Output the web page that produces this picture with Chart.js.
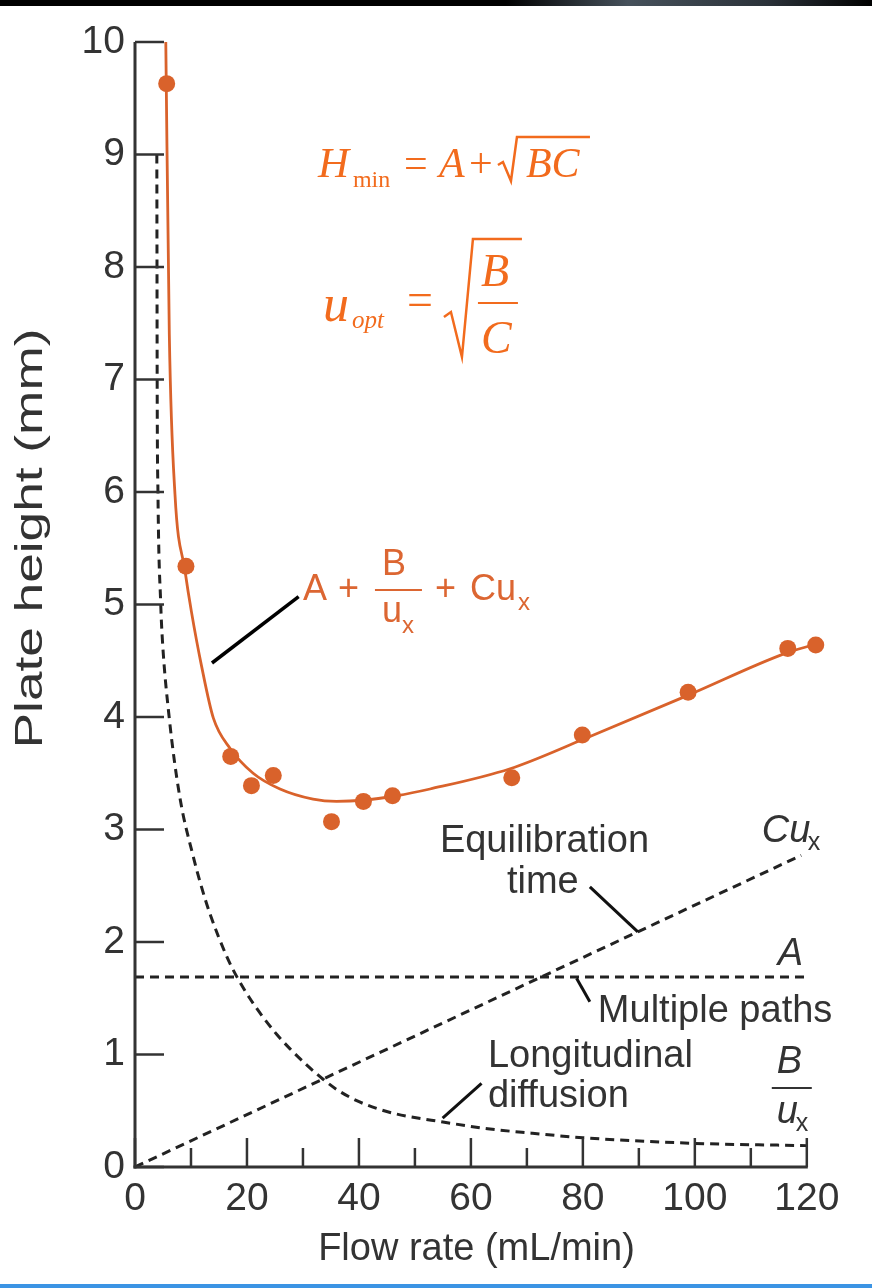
<!DOCTYPE html>
<html lang="en">
<head>
<meta charset="UTF-8">
<title>Plate height vs flow rate</title>
<script src="https://cdn.jsdelivr.net/npm/chart.js"></script>
<style>
  body { margin: 0; background: #fff; }
  #wrap { position: relative; width: 872px; height: 1288px; overflow: hidden; }
  #topbar { position: absolute; left: 0; top: 0; width: 872px; height: 6px;
            background: linear-gradient(to right, #000 0%, #000 58%, #46515b 72%, #2b3239 88%, #000 100%); }
  #bottombar { position: absolute; left: 0; top: 1284px; width: 872px; height: 4px; background: #3b94e4; }
  canvas { position: absolute; left: 0; top: 0; }
</style>
</head>
<body>
<div id="wrap">
  <canvas id="myChart" width="872" height="1288"></canvas>
  <div id="topbar"></div>
  <div id="bottombar"></div>
</div>
<script>
// ---- data ----
const xTicks = [0, 20, 40, 60, 80, 100, 120];
const xMinorTicks = [10, 30, 50, 70, 90, 110];
const yTicks = [0, 1, 2, 3, 4, 5, 6, 7, 8, 9, 10];

// measured plate heights (dots)
const flowRate    = [5.66, 9.1, 17.1, 20.8, 24.7, 35.1, 40.8, 46.0, 67.3, 79.9, 98.8, 116.6, 121.6];
const plateHeight = [9.63, 5.34, 3.65, 3.39, 3.48, 3.07, 3.25, 3.30, 3.46, 3.84, 4.22, 4.61, 4.64];

// fitted curve A + B/u + Cu
const fitX = [5.5, 6.13, 7.14, 8.93, 10.1, 11.9, 14.0, 17.0, 21.1, 25.9, 31.8, 36.0, 40.7, 46.7, 52.7, 67.0, 80.0, 99.1, 116.4, 121.1];
const fitH = [10.0, 7.40, 5.98, 5.30, 4.93, 4.45, 3.99, 3.72, 3.50, 3.36, 3.27, 3.25, 3.26, 3.30, 3.36, 3.54, 3.80, 4.20, 4.57, 4.64];

// longitudinal diffusion term B/u
const diffX = [3.9, 3.93, 3.96, 4.1, 4.6, 4.9, 6.1, 8.0, 10.4, 11.7, 13.4, 16.4, 18.2, 20.5, 22.9, 25.3, 27.7, 30.6, 33.6, 36.0, 39.6, 43.2, 46.8, 55, 63, 71, 80, 100, 120];
const diffH = [9.0, 8.0, 7.0, 6.0, 5.0, 4.68, 4.0, 3.29, 2.76, 2.52, 2.25, 1.87, 1.69, 1.50, 1.33, 1.18, 1.05, 0.91, 0.78, 0.69, 0.59, 0.52, 0.47, 0.40, 0.34, 0.30, 0.26, 0.21, 0.19];

// multiple paths term A
const pathsX = [0, 120];
const pathsH = [1.69, 1.69];

// equilibration time term Cu
const equilX = [0, 119];
const equilH = [0, 2.77];

const AXIS = '#333';
const DOT = '#d9622b';
const ORANGE_SERIF = '#f26b1d';
const ORANGE_SANS = '#dc6632';
const SANS = '"Liberation Sans", Arial, Helvetica, sans-serif';
const SERIF = '"Liberation Serif", "Times New Roman", serif';

const pts = (xs, ys) => xs.map((v, i) => ({x: v, y: ys[i]}));

// axes, inward ticks and text annotations
const annotations = {
    id: 'annotations',
    afterDraw(chart) {
        const {ctx} = chart;
        const x = chart.scales.x, y = chart.scales.y;
        const P = (xv, yv) => [x.getPixelForValue(xv), y.getPixelForValue(yv)];
        const seg = (list, color, w) => {
            ctx.beginPath();
            ctx.strokeStyle = color; ctx.lineWidth = w;
            ctx.lineJoin = 'miter'; ctx.lineCap = 'butt';
            list.forEach((p, i) => i ? ctx.lineTo(p[0], p[1]) : ctx.moveTo(p[0], p[1]));
            ctx.stroke();
        };
        const txt = (s, px, py, font, color) => {
            ctx.font = font; ctx.fillStyle = color;
            ctx.textAlign = 'left'; ctx.textBaseline = 'alphabetic';
            ctx.fillText(s, px, py);
        };
        ctx.save();

        const x0 = x.getPixelForValue(0), x1 = x.getPixelForValue(120);
        const y0 = y.getPixelForValue(0), y1 = y.getPixelForValue(10);
        seg([[x0, y1], [x0, y0 + 1.5]], AXIS, 3);
        seg([[x0 - 1.5, y0], [x1 + 1, y0]], AXIS, 3);

        // ticks pointing into the plot
        yTicks.forEach(v => { const py = y.getPixelForValue(v); seg([[x0, py], [x0 + 29, py]], AXIS, 2.5); });
        xTicks.forEach(v => { const px = x.getPixelForValue(v); seg([[px, y0], [px, y0 - 29]], AXIS, 2.5); });
        xMinorTicks.forEach(v => { const px = x.getPixelForValue(v); seg([[px, y0], [px, y0 - 19]], AXIS, 2.5); });

        // y axis title, stretched along its length like the original figure
        ctx.save();
        ctx.translate(32, (y0 + y1) / 2 - 66);
        ctx.rotate(-Math.PI / 2);
        ctx.scale(1.4, 1);
        ctx.font = '38px ' + SANS; ctx.fillStyle = AXIS;
        ctx.textAlign = 'center'; ctx.textBaseline = 'middle';
        ctx.fillText('Plate height (mm)', 0, 0);
        ctx.restore();

        // H_min = A + sqrt(BC)
        let [a, b] = P(32.68, 8.80);
        txt('H', a, b, 'italic 43px ' + SERIF, ORANGE_SERIF);
        txt('min', a + 35, b + 10, '24px ' + SERIF, ORANGE_SERIF);
        txt('=', a + 86, b, '42px ' + SERIF, ORANGE_SERIF);
        txt('A', a + 121, b, 'italic 42px ' + SERIF, ORANGE_SERIF);
        txt('+', a + 151, b, '42px ' + SERIF, ORANGE_SERIF);
        seg([[a + 180, b - 12], [a + 185, b - 15], [a + 193, b + 4], [a + 199, b - 40], [a + 272, b - 40]], ORANGE_SERIF, 2.5);
        txt('BC', a + 208, b, 'italic 42px ' + SERIF, ORANGE_SERIF);

        // u_opt = sqrt(B/C)
        [a, b] = P(33.57, 7.52);
        txt('u', a, b, 'italic 52px ' + SERIF, ORANGE_SERIF);
        txt('opt', a + 29, b + 7, 'italic 25px ' + SERIF, ORANGE_SERIF);
        txt('=', a + 84, b - 6, '46px ' + SERIF, ORANGE_SERIF);
        seg([[a + 121, b - 4], [a + 128, b - 9], [a + 139, b + 36], [a + 150, b - 82], [a + 199, b - 82]], ORANGE_SERIF, 2.5);
        txt('B', a + 158, b - 35, 'italic 46px ' + SERIF, ORANGE_SERIF);
        seg([[a + 155, b - 18], [a + 195, b - 18]], ORANGE_SERIF, 2);
        txt('C', a + 158, b + 32, 'italic 46px ' + SERIF, ORANGE_SERIF);

        // A + B/u_x + Cu_x with leader
        seg([P(29.23, 5.07), P(13.75, 4.48)], '#000', 3.5);
        [a, b] = P(30.0, 5.04);
        const f3 = '36px ' + SANS, f3s = '24px ' + SANS;
        txt('A', a, b, f3, ORANGE_SANS);
        txt('+', a + 35, b, f3, ORANGE_SANS);
        txt('B', a + 79, b - 25, f3, ORANGE_SANS);
        seg([[a + 72, b - 10], [a + 119, b - 10]], ORANGE_SANS, 2);
        txt('u', a + 79, b + 22, f3, ORANGE_SANS);
        txt('x', a + 99, b + 33, f3s, ORANGE_SANS);
        txt('+', a + 132, b, f3, ORANGE_SANS);
        txt('Cu', a + 167, b, f3, ORANGE_SANS);
        txt('x', a + 215, b + 10, f3s, ORANGE_SANS);

        // term labels
        const lf = '38px ' + SANS, it = 'italic 38px ' + SANS, sub = '25px ' + SANS;
        txt('Equilibration', ...P(54.46, 2.80), lf, AXIS);
        txt('time', ...P(66.43, 2.436), lf, AXIS);
        seg([P(81.25, 2.49), P(89.82, 2.09)], '#111', 3);
        [a, b] = P(111.96, 2.889);
        txt('Cu', a, b, it, AXIS);
        txt('x', a + 46, b + 8, sub, AXIS);

        txt('A', ...P(114.8, 1.796), it, AXIS);
        seg([P(78.87, 1.677), P(81.25, 1.469)], '#111', 3);
        txt('Multiple paths', ...P(82.68, 1.292), lf, AXIS);

        txt('Longitudinal', ...P(63.04, 0.892), lf, AXIS);
        txt('diffusion', ...P(63.04, 0.536), lf, AXIS);
        seg([P(61.9, 0.744), P(54.95, 0.435)], '#111', 3);
        [a, b] = P(114.64, 0.836);
        txt('B', a, b, it, AXIS);
        seg([[a - 5, b + 15], [a + 35, b + 15]], AXIS, 2);
        txt('u', a, b + 50, it, AXIS);
        txt('x', a + 19, b + 58, sub, AXIS);

        ctx.restore();
    }
};

const ctx = document.getElementById('myChart');
const myChart = new Chart(ctx, {
    type: 'scatter',
    data: {
        datasets: [
            { label: 'measured', data: pts(flowRate, plateHeight), pointRadius: 8.5, pointHoverRadius: 8.5,
              backgroundColor: DOT, borderWidth: 0, clip: false },
            { label: 'fit', type: 'line', data: pts(fitX, fitH), borderColor: DOT, borderWidth: 2.8,
              pointRadius: 0, cubicInterpolationMode: 'monotone', fill: false, clip: false },
            { label: 'B/u', type: 'line', data: pts(diffX, diffH), borderColor: '#222', borderWidth: 3,
              borderDash: [9, 6], pointRadius: 0, cubicInterpolationMode: 'monotone', fill: false },
            { label: 'A', type: 'line', data: pts(pathsX, pathsH), borderColor: '#222', borderWidth: 3,
              borderDash: [9, 6], pointRadius: 0, fill: false },
            { label: 'Cu', type: 'line', data: pts(equilX, equilH), borderColor: '#222', borderWidth: 3,
              borderDash: [9, 6], pointRadius: 0, fill: false }
        ]
    },
    options: {
        responsive: false,
        animation: false,
        devicePixelRatio: 1,
        layout: { padding: { left: 0, top: 42, right: 54, bottom: 0 } },
        plugins: { legend: { display: false }, tooltip: { enabled: false } },
        scales: {
            x: {
                type: 'linear', min: 0, max: 122,
                grid: { display: false },
                border: { display: false },
                ticks: { stepSize: 20, includeBounds: false, autoSkip: false, maxRotation: 0, padding: 1, color: AXIS,
                         font: { family: SANS, size: 39 } },
                title: { display: true, text: 'Flow rate (mL/min)', color: AXIS,
                         font: { family: SANS, size: 38 }, padding: { top: 0, bottom: 16 } },
                afterFit(scale) { scale.height = 121; }
            },
            y: {
                type: 'linear', min: 0, max: 10,
                grid: { display: false },
                border: { display: false },
                ticks: { stepSize: 1, autoSkip: false, padding: 2, color: AXIS,
                         font: { family: SANS, size: 39 } },
                title: { display: false },
                afterFit(scale) { scale.width = 135; }
            }
        }
    },
    plugins: [annotations]
});
</script>
</body>
</html>
